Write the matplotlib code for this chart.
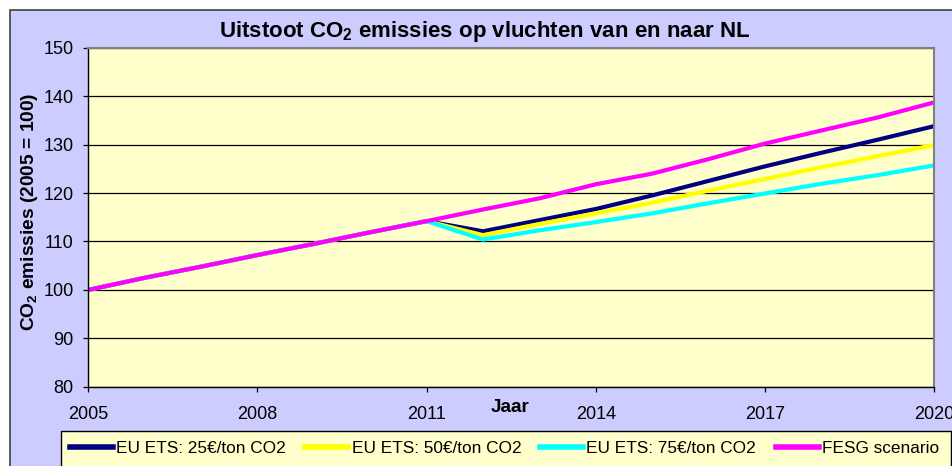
import matplotlib
matplotlib.use("Agg")
import matplotlib.pyplot as plt
from matplotlib.lines import Line2D
from matplotlib.patches import Rectangle

plt.rcParams.update({
    "font.family": ["Liberation Sans", "DejaVu Sans"],
    "mathtext.fontset": "custom",
    "mathtext.rm": "Liberation Sans",
    "mathtext.bf": "Liberation Sans:bold",
})

# data (index 2005 = 100)
years = list(range(2005, 2021))
ets_25 = [100, 102.5, 104.8, 107.2, 109.5, 111.9, 114.2,
          112.1, 114.4, 116.7, 119.5, 122.5, 125.5, 128.3, 131.0, 133.8]
ets_50 = [100, 102.5, 104.8, 107.2, 109.5, 111.9, 114.2,
          111.3, 113.6, 115.8, 118.0, 120.5, 122.9, 125.3, 127.6, 129.9]
ets_75 = [100, 102.5, 104.8, 107.2, 109.5, 111.9, 114.2,
          110.4, 112.3, 114.0, 115.8, 117.9, 119.9, 121.9, 123.7, 125.7]
fesg = [100, 102.5, 104.8, 107.2, 109.5, 111.9, 114.2,
        116.6, 118.9, 121.8, 124.0, 127.0, 130.2, 132.9, 135.6, 138.7]

series_labels = ["EU ETS: 25€/ton CO2", "EU ETS: 50€/ton CO2",
                 "EU ETS: 75€/ton CO2", "FESG scenario"]
series_colors = ["#000080", "#FFFF00", "#00FFFF", "#FF00FF"]
x_ticks = [2005, 2008, 2011, 2014, 2017, 2020]
y_ticks = [80, 90, 100, 110, 120, 130, 140, 150]

W, H = 952, 466
fig = plt.figure(figsize=(W / 100, H / 100), dpi=100, facecolor="white")

# chart area (cropped on right/bottom in the original)
fig.patches.append(Rectangle((10 / W, -0.1), 1.2, 1 - 10 / H + 0.1,
                             transform=fig.transFigure, facecolor="#CCCCFF",
                             edgecolor="#404040", linewidth=1.2, zorder=-2))

ax = fig.add_axes([88.3 / W, 1 - 386.8 / H, (934 - 88.3) / W, (386.8 - 47.7) / H])
ax.set_zorder(2)
ax.set_facecolor("#FFFFCC")

for vals, col, lab in zip([ets_25, ets_50, ets_75, fesg], series_colors, series_labels):
    ax.plot(years, vals, color=col, linewidth=3.0, label=lab, solid_capstyle="round")

ax.set_xlim(2005, 2020)
ax.set_ylim(80, 150)
ax.set_xticks(x_ticks)
ax.set_yticks(y_ticks)
ax.yaxis.grid(True, color="black", linewidth=0.9)
ax.set_axisbelow(True)
ax.tick_params(axis="x", direction="out", length=3.5, width=0.9, pad=10.5, labelsize=13)
ax.tick_params(axis="y", direction="out", length=3.6, width=0.9, pad=7, labelsize=13)
for side in ["left", "bottom"]:
    ax.spines[side].set_color("black")
    ax.spines[side].set_linewidth(1.0)
for side in ["top", "right"]:
    ax.spines[side].set_color("#808080")
    ax.spines[side].set_linewidth(1.5)

fig.text(485 / W, 1 - 31 / H, r"Uitstoot CO$_\mathbf{2}$ emissies op vluchten van en naar NL",
         ha="center", va="center", fontsize=16, fontweight="bold")
fig.text(30 / W, 1 - 212 / H, r"CO$_\mathbf{2}$ emissies (2005 = 100)",
         ha="center", va="center", rotation=90, fontsize=13.8, fontweight="bold")
fig.text(510 / W, 1 - 408 / H, "Jaar", ha="center", va="center",
         fontsize=13.6, fontweight="bold")

# legend box, one entry per slot (Excel spaces them evenly)
fig.patches.append(Rectangle((61 / W, -0.1), (951 - 61) / W, (466 - 431) / H + 0.1,
                             transform=fig.transFigure, facecolor="#FFFFCC",
                             edgecolor="black", linewidth=1.0, zorder=-1))
legend_x = [70, 305, 540, 776]
for lx, col, lab in zip(legend_x, series_colors, series_labels):
    leg = fig.legend([Line2D([], [], color=col, linewidth=4)], [lab], frameon=False,
                     loc="center left", bbox_to_anchor=(lx / W, 1 - 448 / H), fontsize=12.4,
                     handlelength=2.5, handletextpad=0.2,
                     borderpad=0.0, borderaxespad=0.0)
    leg.set_zorder(5)

fig.savefig("out.png", dpi=100)
